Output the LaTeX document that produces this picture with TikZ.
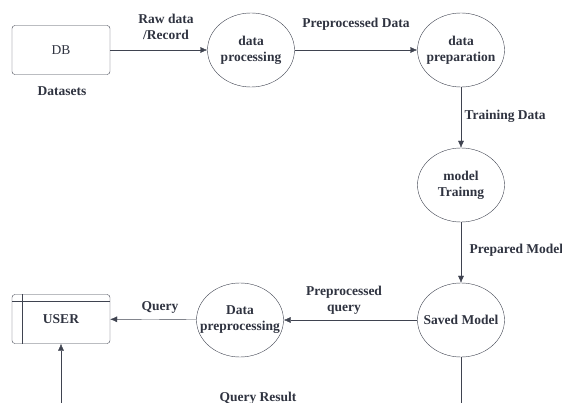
\documentclass[tikz,border=0pt]{standalone}
\usepackage{fontspec}
\setmainfont{Liberation Serif}
\usetikzlibrary{shapes.geometric,arrows.meta}
\definecolor{linegray}{HTML}{3F4350}
\definecolor{textgray}{HTML}{2F3340}
\begin{document}
\begin{tikzpicture}[x=1pt,y=-1pt,
    every node/.style={text=textgray,font=\fontsize{13.5}{16}\selectfont\bfseries,align=center},
    proc/.style={ellipse,draw=linegray,minimum width=87pt,minimum height=74pt,inner sep=0pt,
        label={[align=center]center:#1}},
    store/.style={draw=linegray,rounded corners=3pt,minimum width=98pt,minimum height=49pt},
    flow/.style={draw=linegray,-{Latex[length=7pt,width=6pt]}}]
    \clip (0,0) rectangle (562,403);
    \node[store,font=\fontsize{13.5}{16}\selectfont] at (61,50) (db) {DB};
    \node at (62,91) (datasets) {Datasets};
    \node[proc={data\\processing}] at (251,50) (n1) {};
    \node[proc={data\\preparation}] at (461,50) (n2) {};
    \node[proc={model\\Trainng}] at (461,185) (n3) {};
    \node[proc={Saved Model}] at (461,320) (n4) {};
    \node[proc={Data\\preprocessing}] at (240,320) (n5) {};
    \node[store] at (61,319) (user) {USER};
    \coordinate (c1) at (61,403);
    \coordinate (c2) at (461,403);
    \draw[linegray] ([xshift=10pt]user.north west)--([xshift=10pt]user.south west);
    \draw[linegray] ([yshift=-7pt]user.north west)--([yshift=-7pt]user.north east);
    \draw[flow] (db)--(n1);
    \draw[flow] (n1)--(n2);
    \draw[flow] (n2)--(n3);
    \draw[flow] (n3)--(n4);
    \draw[flow] (n4)--(n5);
    \draw[flow] (n5)--(user);
    \draw[flow] (c1)--(user);
    \draw[linegray] (n4)--(c2);
    \node at (166,27) {Raw data\\/Record};
    \node at (356,24) {Preprocessed Data};
    \node[anchor=west] at (461,116) {Training Data};
    \node[anchor=west] at (466,250) {Prepared Model};
    \node at (344,300) {Preprocessed\\query};
    \node at (160,307) {Query};
    \node at (258,398) {Query Result};
\end{tikzpicture}
\end{document}
